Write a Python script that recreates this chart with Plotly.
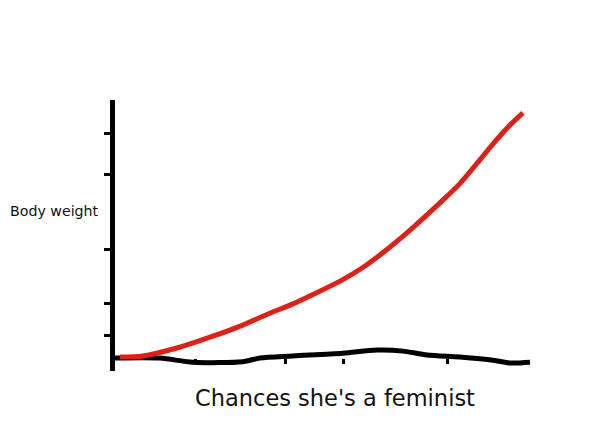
import plotly.graph_objects as go

# Red curve: body weight vs chances she's a feminist
feminist_x = [1.2, 6.7, 14.9, 22.9, 30.8, 37.3, 42.9, 48.7, 54.9, 59.8, 64.6,
              71.1, 79.0, 83.1, 87.2, 91.1, 95.2, 98.3]
body_weight = [0.4, 0.8, 3.9, 8.1, 12.8, 17.4, 21.0, 25.4, 30.4, 35.2, 40.9,
               49.6, 61.2, 67.6, 75.4, 83.0, 90.3, 95.0]

# Hand-drawn wobbly baseline (x axis stroke)
base_x = [0, 10.8, 18.8, 30.8, 34.9, 42.9, 54.9, 63.1, 69.4, 75.2, 83.1, 91.1, 95.2, 100]
base_y = [0, 0, -1.6, -1.4, 0, 0.8, 1.9, 3.1, 2.7, 1.2, 0.4, -0.8, -1.9, -1.6]

y_ticks = [8.9, 21.3, 42.2, 71.3, 87.2]
x_ticks = [19.3, 41.0, 55.0, 80.0]

fig = go.Figure()
fig.add_trace(go.Scatter(x=base_x, y=base_y, mode="lines",
                         line=dict(color="black", width=5, shape="spline", smoothing=0.8),
                         hoverinfo="skip"))
fig.add_trace(go.Scatter(x=feminist_x, y=body_weight, mode="lines",
                         line=dict(color="#dc2119", width=5, shape="spline", smoothing=0.8),
                         hoverinfo="skip"))

fig.update_layout(
    width=602, height=447,
    margin=dict(l=107, r=80, t=92, b=84),
    paper_bgcolor="white", plot_bgcolor="white",
    showlegend=False,
    font=dict(family="DejaVu Sans", color="#111"),
    xaxis=dict(range=[0, 100], showgrid=False, zeroline=False, showline=False,
               tickvals=x_ticks, ticks="outside", ticklen=5, tickwidth=3,
               tickcolor="black", showticklabels=False,
               anchor="free", position=5 / 105),
    yaxis=dict(range=[-5, 100], showgrid=False, zeroline=False, showline=True,
               linecolor="black", linewidth=5,
               tickvals=y_ticks, ticks="outside", ticklen=6, tickwidth=3,
               tickcolor="black", showticklabels=False),
    annotations=[
        dict(text="Body weight", xref="paper", yref="y", x=-0.034, y=57,
             xanchor="right", yanchor="middle", showarrow=False,
             font=dict(size=14.2, family="DejaVu Sans", color="#111")),
        dict(text="Chances she's a feminist", xref="x", yref="paper", x=53, y=-0.10,
             xanchor="center", yanchor="middle", showarrow=False,
             font=dict(size=22.5, family="DejaVu Sans", color="#111")),
    ],
)

fig.write_html("out.html")
